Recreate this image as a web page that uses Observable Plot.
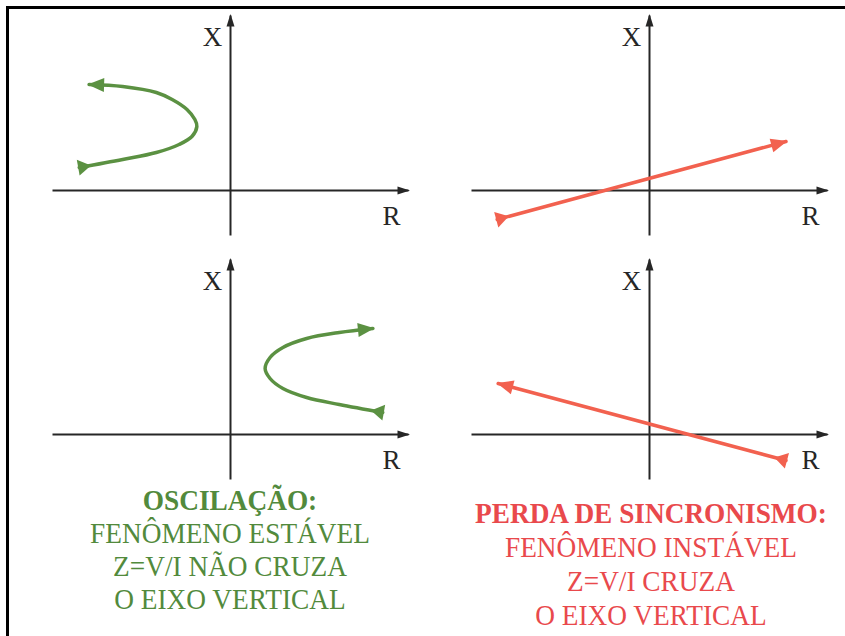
<!DOCTYPE html>
<html lang="pt">
<head>
<meta charset="utf-8">
<script src="https://cdn.jsdelivr.net/npm/d3@7"></script>
<script src="https://cdn.jsdelivr.net/npm/@observablehq/plot@0.6"></script>
<style>
  html, body { margin: 0; padding: 0; background: #fff; }
  #page { position: relative; width: 845px; height: 636px; overflow: hidden; background: #fff; }
  #chart { position: absolute; left: 0; top: 0; }
  #frame { position: absolute; left: 6px; top: 6px; right: -4px; bottom: -4px;
           border-top: 3px solid #000; border-left: 3px solid #000; pointer-events: none; }
  .nota { position: absolute; width: 420px; text-align: center; white-space: nowrap;
          font-family: "Liberation Serif", "DejaVu Serif", serif; font-size: 30px;
          transform: scaleX(0.91); transform-origin: 50% 0; }
  .nota div { height: 33px; line-height: 33px; }
  .nota div:first-child { font-weight: bold; }
  #notaEstavel { left: 20px; top: 483px; color: #528a3c; }
  #notaInstavel { left: 441px; top: 496px; color: #e9494c; }
  #notaInstavel div { height: 34px; line-height: 34px; }
</style>
</head>
<body>
<div id="page">
  <div id="chart"></div>
  <div class="nota" id="notaEstavel"></div>
  <div class="nota" id="notaInstavel"></div>
  <div id="frame"></div>
</div>
<script>
// Painéis do plano R-X: coluna (comportamento) × linha (caso)
const colunas = ["estável", "instável"];
const linhas = ["superior", "inferior"];

// Oscilação estável: trajetória de Z que volta sem cruzar o eixo X
const oscSupR = [-15.3, -10.9, -7.5, -5.2, -3.9, -3.4, -3.6, -4.4, -5.9, -7.5, -10.9, -14.3];
const oscSupX = [2.3, 3.1, 3.8, 4.6, 5.4, 6.4, 7.1, 8.1, 9.1, 9.8, 10.4, 10.6];
const oscInfR = [15.4, 11.0, 7.7, 5.3, 4.0, 3.5, 4.0, 5.3, 7.7, 11.0, 14.4];
const oscInfX = [2.2, 3.0, 3.7, 4.6, 5.6, 6.6, 7.7, 8.7, 9.6, 10.2, 10.6];

// Perda de sincronismo: trajetória de Z que atravessa o eixo X
const pdsSupR = [-15.4, 13.8];
const pdsSupX = [-2.9, 4.9];
const pdsInfR = [13.8, -15.3];
const pdsInfX = [-2.6, 5.1];

// Eixos R (horizontal) e X (vertical) de cada painel
const eixoR = [-18, 18];
const eixoX = [-4.5, 17.5];

// Textos explicativos sob cada coluna
const notaEstavel = ["OSCILAÇÃO:", "FENÔMENO ESTÁVEL", "Z=V/I NÃO CRUZA", "O EIXO VERTICAL"];
const notaInstavel = ["PERDA DE SINCRONISMO:", "FENÔMENO INSTÁVEL", "Z=V/I CRUZA", "O EIXO VERTICAL"];

const verde = "#5b9142";
const vermelho = "#f2614f";

const tabela = (col, row, rs, xs, id) => rs.map((r, i) => ({id, col, row, r, x: xs[i]}));
const curvas = [
  ...tabela("estável", "superior", oscSupR, oscSupX, 0),
  ...tabela("estável", "inferior", oscInfR, oscInfX, 1)
];
const retas = [
  ...tabela("instável", "superior", pdsSupR, pdsSupX, 2),
  ...tabela("instável", "inferior", pdsInfR, pdsInfX, 3)
];
const eixos = [
  {x1: eixoR[0], y1: 0, x2: eixoR[1], y2: 0, nome: "R"},
  {x1: 0, y1: eixoX[0], x2: 0, y2: eixoX[1], nome: "X"}
];

// Ponta de seta cheia (vértice no fim do traço)
const ponta = (len, half) => (color) => {
  const m = d3.create("svg:marker")
    .attr("viewBox", `${-len - 2} ${-half - 2} ${len + 6} ${2 * half + 4}`)
    .attr("markerUnits", "userSpaceOnUse")
    .attr("markerWidth", len + 6)
    .attr("markerHeight", 2 * half + 4)
    .attr("orient", "auto")
    .attr("overflow", "visible");
  m.append("path").attr("d", `M${-len},${-half}L1.5,0L${-len},${half}Z`)
    .attr("fill", color).attr("stroke", "none");
  return m.node();
};
// Triângulo de origem (base no início do traço, apontando no sentido do percurso)
const cauda = (len, half) => (color) => {
  const m = d3.create("svg:marker")
    .attr("viewBox", `-3 ${-half - 2} ${len + 6} ${2 * half + 4}`)
    .attr("markerUnits", "userSpaceOnUse")
    .attr("markerWidth", len + 6)
    .attr("markerHeight", 2 * half + 4)
    .attr("orient", "auto")
    .attr("overflow", "visible");
  m.append("path").attr("d", `M-1,${-half}L${len},0L-1,${half}Z`)
    .attr("fill", color).attr("stroke", "none");
  return m.node();
};

const chart = Plot.plot({
  width: 845,
  height: 481,
  marginTop: 15,
  marginBottom: 2,
  marginLeft: 52,
  marginRight: 18,
  facet: {marginTop: 0, marginRight: 0, marginBottom: 0, marginLeft: 0},
  fx: {domain: colunas, paddingInner: 0.1504, paddingOuter: 0, axis: null},
  fy: {domain: linhas, paddingInner: 0.0984, paddingOuter: 0, axis: null},
  x: {domain: eixoR, axis: null},
  y: {domain: eixoX, axis: null},
  style: {background: "transparent", overflow: "visible"},
  marks: [
    Plot.link(eixos, {
      x1: "x1", y1: "y1", x2: "x2", y2: "y2",
      stroke: "#262626", strokeWidth: 2,
      markerEnd: ponta(11, 4)
    }),
    Plot.text(eixos.filter(d => d.nome === "X"), {
      x: "x2", y: "y2", text: "nome", dx: -18, dy: 22,
      fontFamily: "Liberation Serif, serif", fontSize: 27, fill: "#262626"
    }),
    Plot.text(eixos.filter(d => d.nome === "R"), {
      x: "x2", y: "y2", text: "nome", dx: -17, dy: 26,
      fontFamily: "Liberation Serif, serif", fontSize: 27, fill: "#262626"
    }),
    Plot.line(curvas, {
      x: "r", y: "x", z: "id", fx: "col", fy: "row",
      curve: "catmull-rom", stroke: verde, strokeWidth: 3.5,
      markerStart: cauda(12, 8), markerEnd: ponta(15, 7)
    }),
    Plot.line(retas, {
      x: "r", y: "x", z: "id", fx: "col", fy: "row",
      stroke: vermelho, strokeWidth: 3.5,
      markerStart: cauda(12, 8), markerEnd: ponta(15, 7)
    })
  ]
});
document.getElementById("chart").append(chart);

for (const [id, linhasTexto] of [["notaEstavel", notaEstavel], ["notaInstavel", notaInstavel]]) {
  const el = document.getElementById(id);
  for (const t of linhasTexto) {
    const d = document.createElement("div");
    d.textContent = t;
    el.append(d);
  }
}
</script>
</body>
</html>
